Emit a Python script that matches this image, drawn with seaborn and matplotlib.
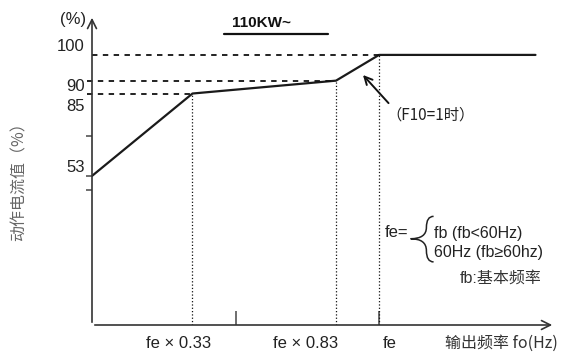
import matplotlib.pyplot as plt
from matplotlib.path import Path
from matplotlib.patches import PathPatch
import seaborn as sns
import pandas as pd

# Kennlinie: Ausgangsfrequenz (Anteil von fe) -> Ansprechstrom (%)
freq = [0.0, 0.35, 0.85, 1.0, 1.545]
current = [53, 85, 90, 100, 100]

y_marks = [100, 90, 85, 53]
x_marks = [0.35, 0.85, 1.0]
x_labels = ["fe × 0.33", "fe × 0.83", "fe"]

df = pd.DataFrame({"f": freq, "i": current})

sns.set_style("white")
plt.rcParams["font.family"] = ["Liberation Sans", "Noto Sans CJK SC", "DejaVu Sans"]
cjk = ["Noto Sans CJK SC", "DejaVu Sans"]

fig = plt.figure(figsize=(5.65, 3.54), dpi=100)
W, H = 565, 354
ax = fig.add_axes([92 / W, (H - 325) / H, (555 - 92) / W, (325 - 15) / H])
ax.set_xlim(0, 1.613)
ax.set_ylim(-4.9, 115.5)

sns.lineplot(data=df, x="f", y="i", color="#1a1a1a", lw=1.6, ax=ax)

# Hilfslinien
ax.plot([0, x_marks[2]], [y_marks[0]] * 2, ls=(0, (3, 3)), color="#111", lw=1.3)
ax.plot([-0.017, x_marks[1]], [y_marks[1]] * 2, ls=(0, (3, 3)), color="#111", lw=1.3, clip_on=False)
ax.plot([-0.017, x_marks[0]], [y_marks[2]] * 2, ls=(0, (3, 3)), color="#111", lw=1.3, clip_on=False)
for xm, ym in zip(x_marks, [85, 90, 100]):
    ax.plot([xm, xm], [-4.9, ym], ls=":", color="#111", lw=0.9)

# Achsen mit Pfeilen
for s in ax.spines.values():
    s.set_visible(False)
arrow = dict(arrowstyle="->", color="#333", lw=1.2, mutation_scale=16)
ax.annotate("", xy=(1, 0), xytext=(0, 0), xycoords="axes fraction", arrowprops=arrow)
ax.annotate("", xy=(0, 1), xytext=(0, 0), xycoords="axes fraction", arrowprops=arrow)

ax.set_xticks([0.5, 1.0])
ax.set_yticks([68.5, 53, 47.5])
ax.set_xticklabels([])
ax.set_yticklabels([])
ax.tick_params(axis="x", direction="in", length=10, width=1.2, color="#555", bottom=True)
ax.tick_params(axis="y", direction="out", length=4, width=1.2, color="#555", left=True)
ax.set_xlabel("")
ax.set_ylabel("")

# Beschriftungen
for ym, ty in zip(y_marks, [103.1, 87.6, 79.8, 56.1]):
    ax.text(-0.025, ty, str(ym), ha="right", va="center", fontsize=12, color="#222")
ax.text(-0.066, 113.6, "(%)", ha="center", va="center", fontsize=12, color="#222")
# Beschriftungen leicht versetzt wie im Original
for xm, dx, lab in zip(x_marks, [-0.05, -0.105, 0.038], x_labels):
    ax.text(xm + dx, -11.9, lab, ha="center", va="center", fontsize=12, color="#222")
ax.text(1.427, -11.9, "输出频率 fo(Hz)", ha="center", va="center", fontsize=11.5, color="#333",
        family=cjk)
ax.text(-0.255, 52.5, "动作电流值（%）", rotation=90, ha="center", va="center", fontsize=11.5,
        color="#666", family=cjk)

ax.text(0.592, 112.4, "110KW~", ha="center", va="center", fontsize=11, fontweight="bold", color="#111")
ax.plot([0.46, 0.822], [108.2, 108.2], color="#111", lw=1.6)

ax.annotate("（F10=1时）", xy=(0.944, 92.2), xytext=(1.025, 76.7), ha="left", va="center",
            fontsize=11, color="#222", family=cjk,
            arrowprops=dict(arrowstyle="->", color="#111", lw=1.4, mutation_scale=14,
                            shrinkA=0, shrinkB=0, relpos=(0.06, 1.0)))

# fe = { ... }
ax.text(1.021, 31.2, "fe=", ha="left", va="center", fontsize=12, color="#222")
bx, tip = 1.165, 1.11
brace = Path(
    [(1.19, 37.3), (bx, 37.3), (bx, 33.0), (bx, 28.6), (tip, 28.6),
     (bx, 28.6), (bx, 24.0), (bx, 19.6), (1.19, 19.6)],
    [Path.MOVETO, Path.CURVE3, Path.CURVE3, Path.CURVE3, Path.CURVE3,
     Path.CURVE3, Path.CURVE3, Path.CURVE3, Path.CURVE3],
)
ax.add_patch(PathPatch(brace, fill=False, color="#222", lw=1.1, clip_on=False))
ax.text(1.19, 30.8, "fb (fb<60Hz)", ha="left", va="center", fontsize=11.5, color="#222")
ax.text(1.19, 23.1, "60Hz (fb≥60hz)", ha="left", va="center", fontsize=11.5, color="#222")
ax.text(1.28, 13.4, "fb:基本频率", ha="left", va="center", fontsize=11.5, color="#333")

fig.savefig("out.png", dpi=100)
